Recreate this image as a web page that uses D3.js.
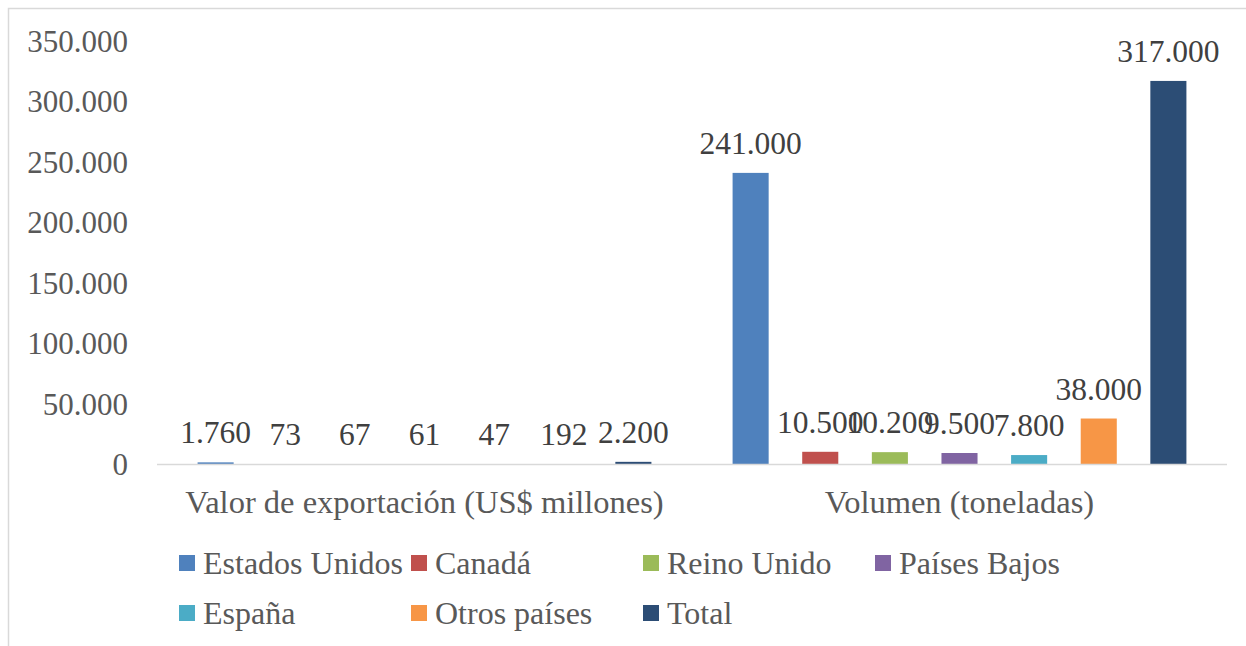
<!DOCTYPE html>
<html>
<head>
<meta charset="utf-8">
<script src="https://cdn.jsdelivr.net/npm/d3@7"></script>
<style>
  body { margin: 0; background: #fff; }
  svg { display: block; font-family: "Liberation Serif", "Times New Roman", serif; }
</style>
</head>
<body>
<script>
var categories = ["Valor de exportación (US$ millones)", "Volumen (toneladas)"];
var series = ["Estados Unidos", "Canadá", "Reino Unido", "Países Bajos", "España", "Otros países", "Total"];
var colors = ["#4F81BD", "#C0504D", "#9BBB59", "#8064A2", "#4BACC6", "#F79646", "#2C4D75"];
var valorExport = [1760, 73, 67, 61, 47, 192, 2200];
var volumen = [241000, 10500, 10200, 9500, 7800, 38000, 317000];
var yTicks = [0, 50000, 100000, 150000, 200000, 250000, 300000, 350000];

var width = 1246,
  height = 646,
  plot = { left: 157, right: 1227, top: 41, bottom: 464.5 };

var locale = d3.formatLocale({ decimal: ",", thousands: ".", grouping: [3], currency: ["$", ""] });
var fmt = locale.format(",");

var rows = categories.map(function (c, i) {
  var vals = i === 0 ? valorExport : volumen;
  return { cat: c, values: series.map(function (s, j) { return { key: s, value: vals[j], color: colors[j] }; }) };
});

var svg = d3.select("body").append("svg").attr("width", width).attr("height", height);

// outer frame (only top/left visible in the reference)
svg.append("rect")
  .attr("x", 8.5).attr("y", 8.5)
  .attr("width", 1400).attr("height", 800)
  .attr("fill", "none").attr("stroke", "#d9d9d9").attr("stroke-width", 1.5);

var x0 = d3.scaleBand().domain(categories).range([plot.left, plot.right]);
var x1 = d3.scaleBand().domain(series).range([0, x0.bandwidth()])
  .paddingInner(0.482).paddingOuter(0.583);
var y = d3.scaleLinear().domain([0, 350000]).range([plot.bottom, plot.top]);

var yAxis = d3.axisLeft(y).tickValues(yTicks).tickFormat(fmt).tickSize(0).tickPadding(29);
var gy = svg.append("g").attr("transform", "translate(" + plot.left + ",0)").call(yAxis);
gy.select(".domain").remove();
gy.selectAll("text")
  .attr("fill", "#595959")
  .style("font-size", "31px")
  .attr("dy", "0.33em")
  .style("font-family", "'Liberation Serif', serif");

var groups = svg.selectAll(".cat").data(rows).enter().append("g")
  .attr("class", "cat")
  .attr("transform", function (d) { return "translate(" + x0(d.cat) + ",0)"; });

groups.selectAll("rect").data(function (d) { return d.values; }).enter().append("rect")
  .attr("x", function (d) { return x1(d.key); })
  .attr("y", function (d) { return y(d.value); })
  .attr("width", x1.bandwidth())
  .attr("height", function (d) { return y(0) - y(d.value); })
  .attr("fill", function (d) { return d.color; });

groups.selectAll("text.lbl").data(function (d) { return d.values; }).enter().append("text")
  .attr("class", "lbl")
  .attr("x", function (d) { return x1(d.key) + x1.bandwidth() / 2; })
  .attr("y", function (d) { return y(d.value) - 19; })
  .attr("text-anchor", "middle")
  .attr("fill", "#404040")
  .style("font-size", "31.5px")
  .text(function (d) { return fmt(d.value); });

// x axis line
svg.append("line")
  .attr("x1", plot.left).attr("x2", plot.right)
  .attr("y1", y(0)).attr("y2", y(0))
  .attr("stroke", "#d9d9d9").attr("stroke-width", 1.5);

svg.selectAll("text.cat-lbl").data(categories).enter().append("text")
  .attr("class", "cat-lbl")
  .attr("x", function (d) { return x0(d) + x0.bandwidth() / 2; })
  .attr("y", 513)
  .attr("text-anchor", "middle")
  .attr("fill", "#595959")
  .style("font-size", "32.5px")
  .text(function (d) { return d; });

// legend: 4 columns, 2 rows
var legendLeft = 179, legendStep = 232;
var legend = svg.selectAll(".leg").data(series).enter().append("g")
  .attr("class", "leg")
  .attr("transform", function (d, i) {
    var col = i % 4, row = Math.floor(i / 4);
    return "translate(" + (legendLeft + col * legendStep) + "," + (563 + row * 50) + ")";
  });
legend.append("rect")
  .attr("x", 0).attr("y", -8)
  .attr("width", 16).attr("height", 16)
  .attr("fill", function (d, i) { return colors[i]; });
legend.append("text")
  .attr("x", 24).attr("y", 0).attr("dy", "0.35em")
  .attr("fill", "#595959")
  .style("font-size", "32px")
  .text(function (d) { return d; });
</script>
</body>
</html>
